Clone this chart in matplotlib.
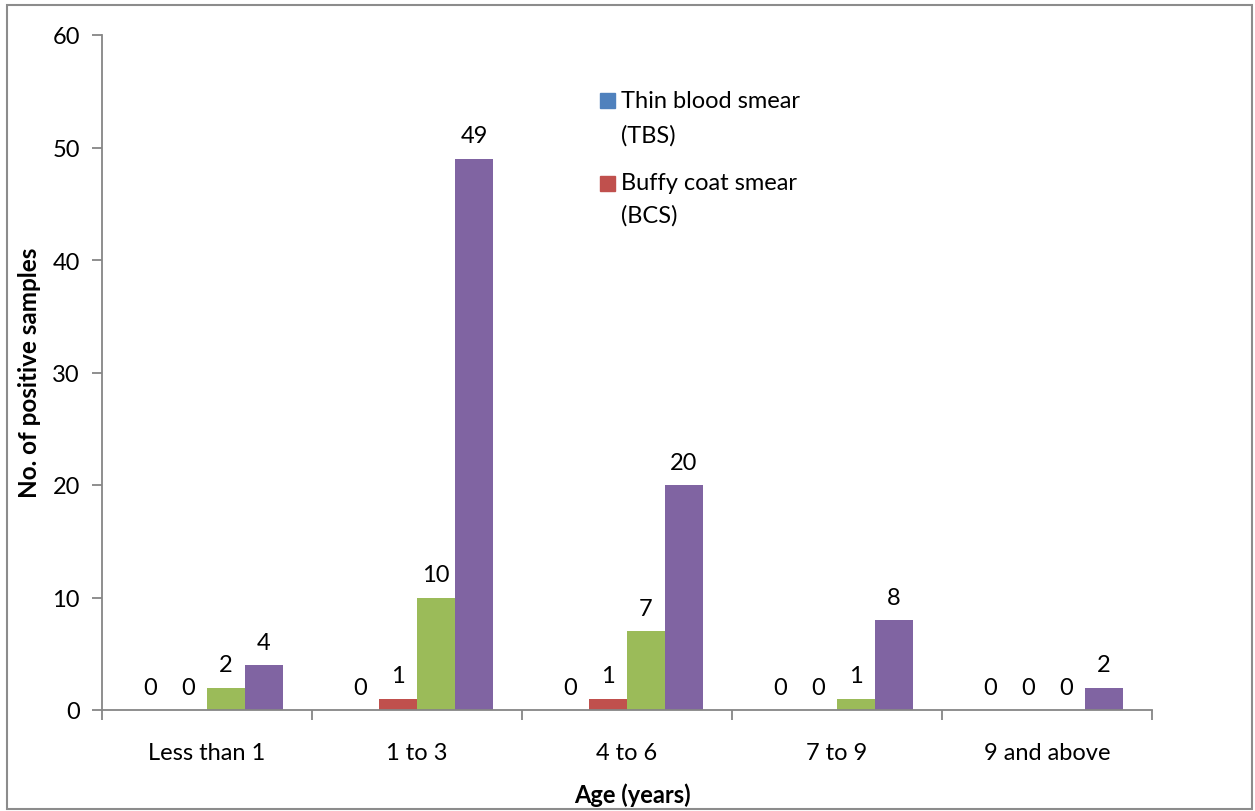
import matplotlib.pyplot as plt
from matplotlib.patches import Rectangle
import numpy as np

plt.rcParams['font.family'] = ['Lato', 'DejaVu Sans']

age_groups = ['Less than 1', '1 to 3', '4 to 6', '7 to 9', '9 and above']
tbs = [0, 0, 0, 0, 0]
bcs = [0, 1, 1, 0, 0]
series3 = [2, 10, 7, 1, 0]
series4 = [4, 49, 20, 8, 2]

series = [tbs, bcs, series3, series4]
colors = ['#4F81BD', '#C0504D', '#9BBB59', '#8064A2']
axis_grey = '#868686'
fs = 17

fig = plt.figure(figsize=(12.55, 8.12), dpi=100)
ax = fig.add_axes([102 / 1255, 1 - 711 / 812, 1050 / 1255, 675 / 812])

x = np.arange(len(age_groups))
w = 0.181
for i, (vals, c) in enumerate(zip(series, colors)):
    pos = x + (i - 1.5) * w
    ax.bar(pos, vals, width=w, color=c, edgecolor='none', zorder=2)
    for p, v in zip(pos, vals):
        ax.text(p, v + 1.1, str(v), ha='center', va='bottom', fontsize=fs)

ax.set_xlim(-0.5, len(age_groups) - 0.5)
ax.set_ylim(0, 60)
ax.set_yticks(range(0, 61, 10))
ax.set_xticks(x)
ax.set_xticklabels(age_groups, fontsize=fs)
ax.tick_params(axis='x', length=0, pad=23)
ax.set_xticks(np.arange(-0.5, len(age_groups)), minor=True)
ax.tick_params(axis='x', which='minor', length=7, color=axis_grey, width=1.3)
ax.tick_params(axis='y', length=7, color=axis_grey, width=1.3, labelsize=fs, pad=9)

for s in ['top', 'right']:
    ax.spines[s].set_visible(False)
for s in ['left', 'bottom']:
    ax.spines[s].set_color(axis_grey)
    ax.spines[s].set_linewidth(1.3)

fig.text(30 / 1255, 1 - 373 / 812, 'No. of positive samples', rotation=90,
         ha='center', va='center', fontsize=17.5, fontweight='bold')
fig.text(632 / 1255, 1 - 795 / 812, 'Age (years)', ha='center', va='center',
         fontsize=fs, fontweight='bold')

# legend (only the first two series are shown)
legend_items = [('Thin blood smear', '(TBS)', 101, 136),
                ('Buffy coat smear', '(BCS)', 184, 216)]
for (l1, l2, y1, y2), c in zip(legend_items, colors[:2]):
    fig.patches.append(Rectangle((600 / 1255, 1 - (y1 + 8) / 812), 15 / 1255, 15 / 812,
                                 transform=fig.transFigure, color=c))
    fig.text(621 / 1255, 1 - y1 / 812, l1, ha='left', va='center', fontsize=fs)
    fig.text(621 / 1255, 1 - y2 / 812, l2, ha='left', va='center', fontsize=fs)

# outer chart frame
fig.patches.append(Rectangle((7 / 1255, 2 / 812), 1245 / 1255, 804 / 812,
                             transform=fig.transFigure, fill=False,
                             edgecolor='#8c8c8c', linewidth=1.5))

fig.savefig('out.png', dpi=100)
